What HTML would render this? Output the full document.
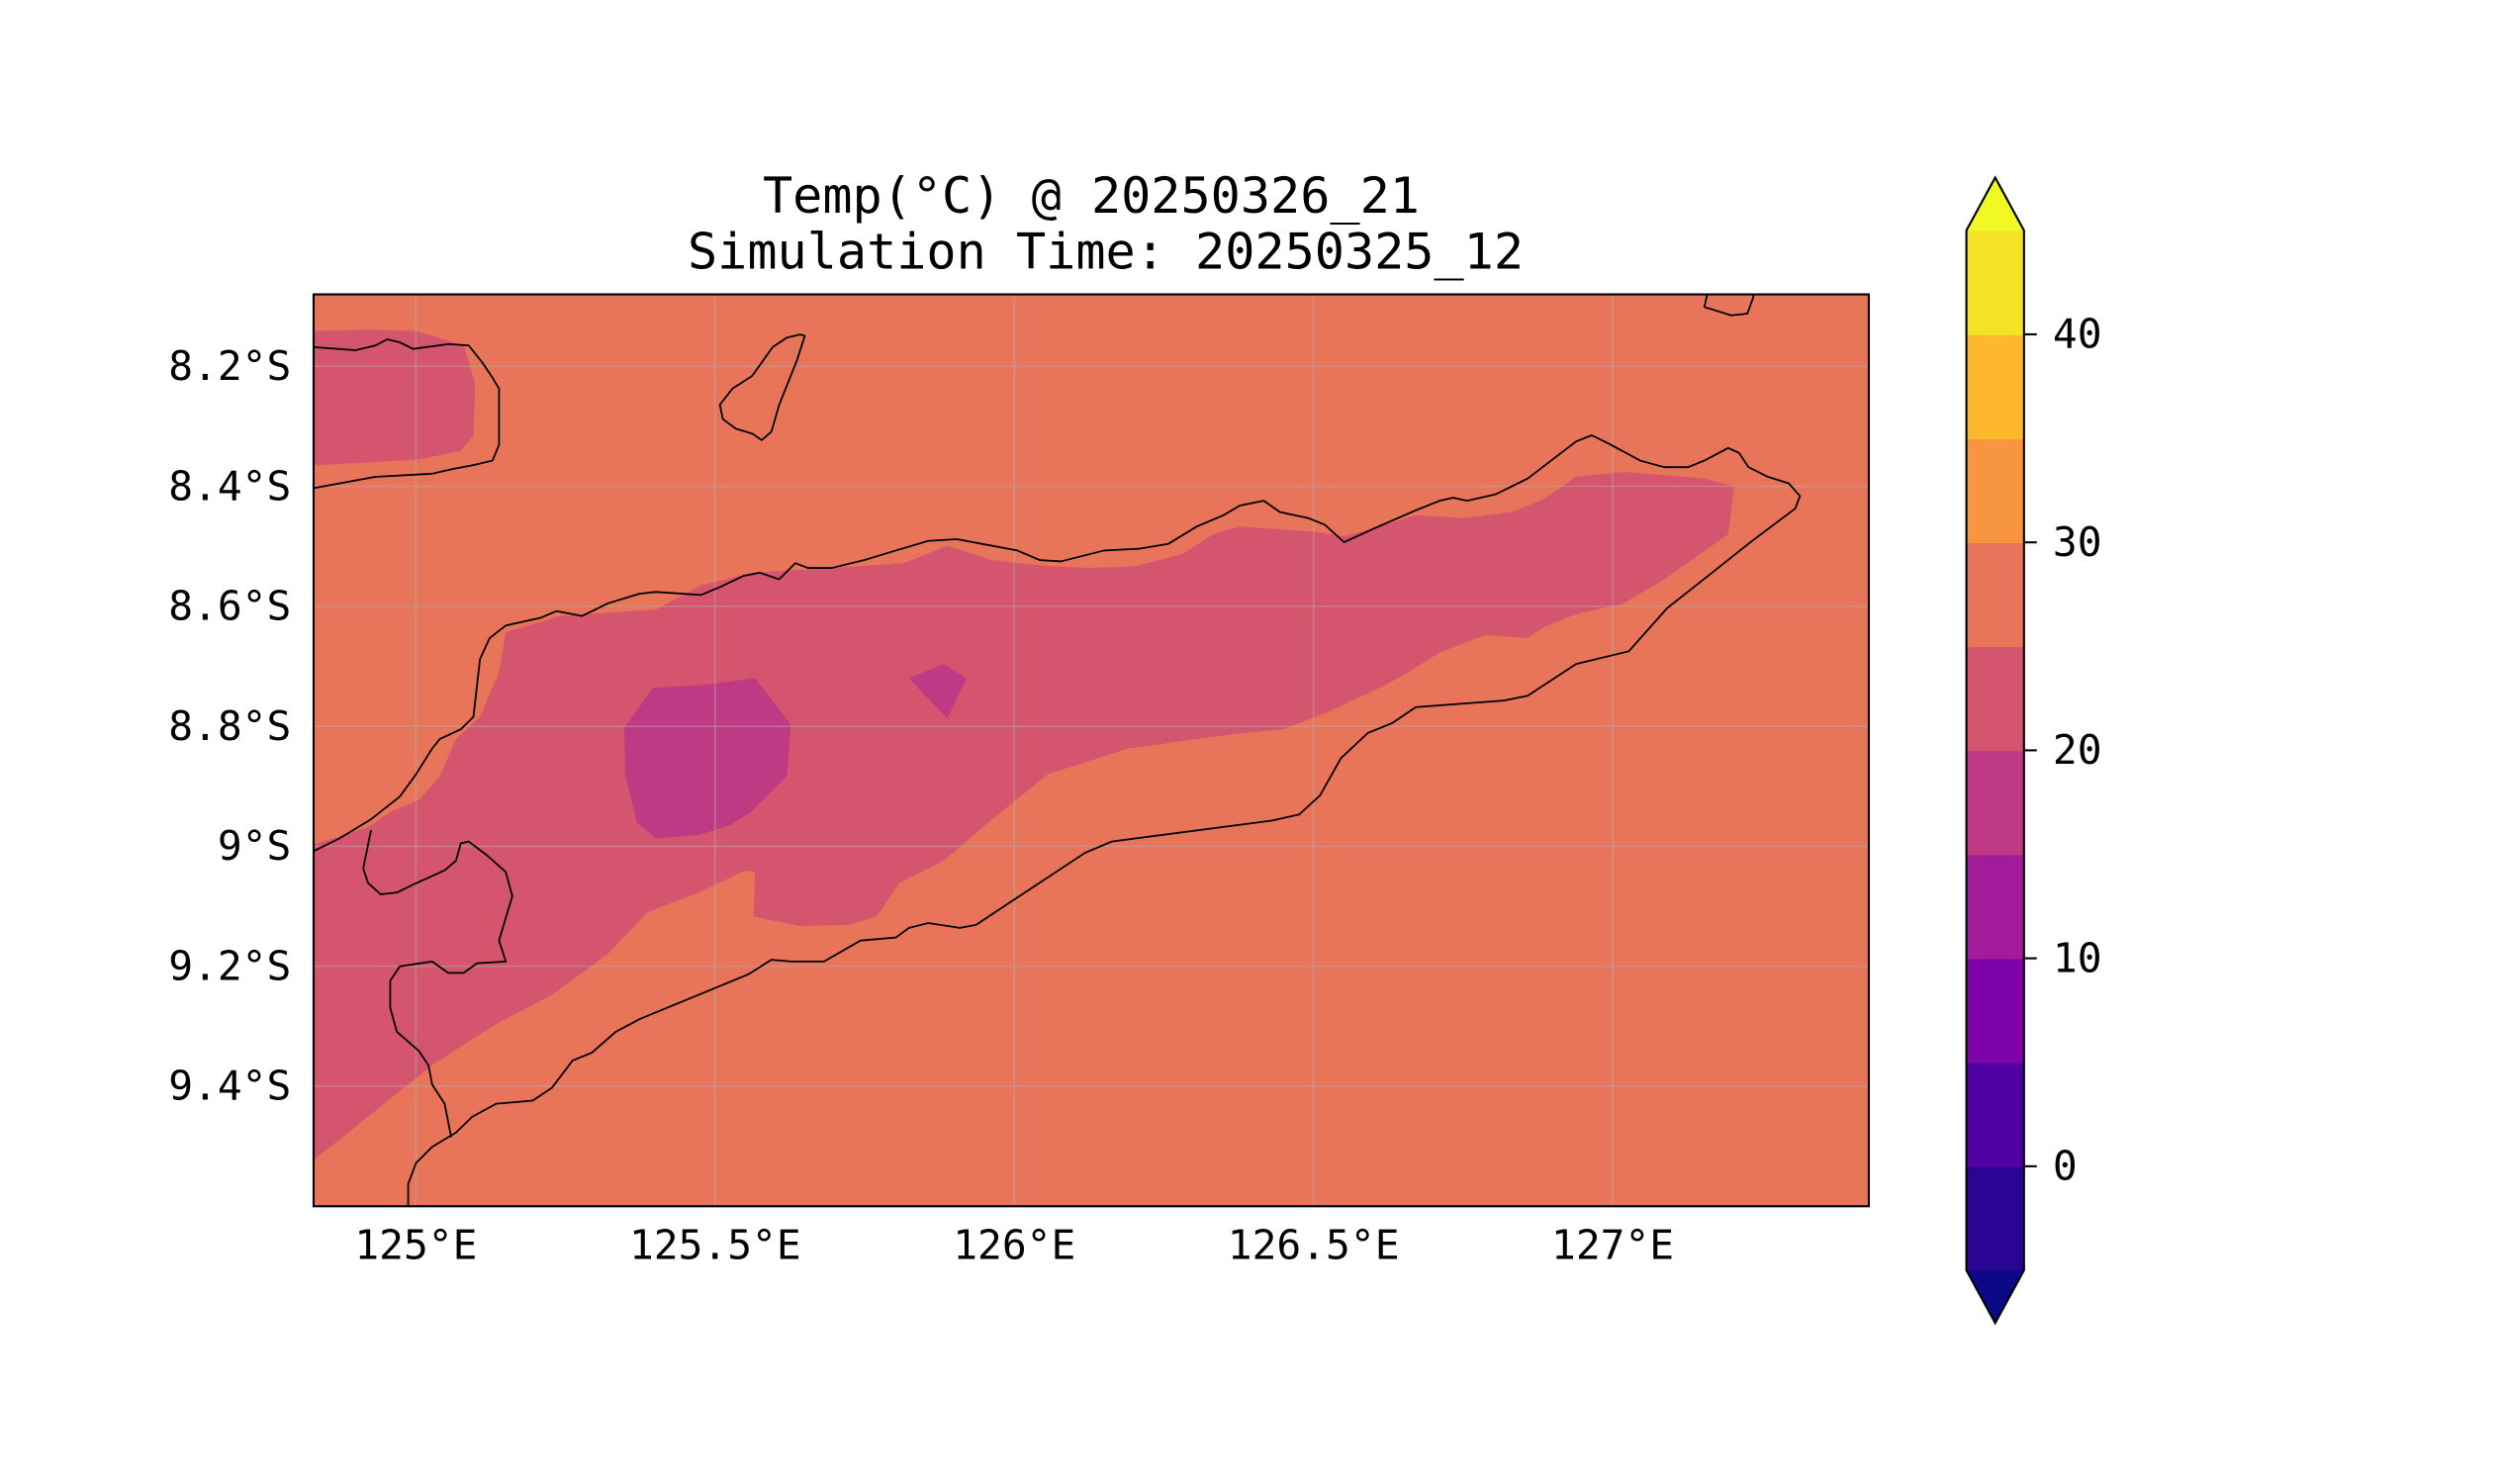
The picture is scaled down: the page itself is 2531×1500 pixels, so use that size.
<!DOCTYPE html>
<html><head><meta charset="utf-8"><style>
html,body{margin:0;padding:0;background:#fff;}
svg{display:block;}
text{font-family:"DejaVu Sans Mono","Liberation Mono",monospace;fill:#000;}
</style></head><body>
<svg id="fig" width="2531" height="1500" viewBox="0 0 1565 927.6" preserveAspectRatio="none" xmlns="http://www.w3.org/2000/svg">
<defs><clipPath id="plotclip"><rect x="196" y="184" width="972" height="570"/></clipPath></defs>
<text x="682" y="133" font-size="31" text-anchor="middle">Temp(°C) @ 20250326_21</text>
<text x="691" y="168" font-size="31" text-anchor="middle">Simulation Time: 20250325_12</text>
<g id="plot"></g>
<g id="cbar"></g>
</svg>
<script>
const xTicks = [125, 125.5, 126, 126.5, 127];
const xTickLabels = ["125°E", "125.5°E", "126°E", "126.5°E", "127°E"];
const yTicks = [8.2, 8.4, 8.6, 8.8, 9.0, 9.2, 9.4];
const yTickLabels = ["8.2°S", "8.4°S", "8.6°S", "8.8°S", "9°S", "9.2°S", "9.4°S"];
const levels = [-5, 0, 5, 10, 15, 20, 25, 30, 35, 40, 45];
const levelColors = ["#2a0593", "#5002a2", "#7e03a8", "#a11b9b", "#bf3984", "#d5546e", "#e8755a", "#f79540", "#feb82c", "#f5e426"];
const extendLowColor = "#0d0887";
const extendHighColor = "#f0f921";
const cbTicks = [0, 10, 20, 30, 40];
const backgroundLevel = 27.5;
// temperature zones [lon, latS]
const zone2025TopLeft = [[124.829,8.141],[124.920,8.139],[125.000,8.141],[125.080,8.165],[125.099,8.229],[125.096,8.315],[125.075,8.341],[125.005,8.355],[124.925,8.360],[124.829,8.365]];
const zone2025Timor = [[124.829,9.523],[124.880,9.483],[124.947,9.429],[125.027,9.365],[125.134,9.296],[125.227,9.248],[125.321,9.179],[125.388,9.109],[125.473,9.077],[125.551,9.040],[125.567,9.043],[125.564,9.117],[125.642,9.133],[125.722,9.131],[125.770,9.117],[125.808,9.061],[125.882,9.024],[125.963,8.955],[126.056,8.880],[126.190,8.837],[126.364,8.813],[126.449,8.805],[126.524,8.776],[126.610,8.736],[126.650,8.715],[126.711,8.677],[126.786,8.648],[126.858,8.653],[126.885,8.635],[126.939,8.613],[127.019,8.595],[127.086,8.555],[127.193,8.480],[127.203,8.400],[127.153,8.387],[127.019,8.376],[126.939,8.384],[126.885,8.421],[126.832,8.443],[126.751,8.453],[126.671,8.448],[126.604,8.469],[126.551,8.483],[126.492,8.475],[126.377,8.467],[126.332,8.480],[126.283,8.512],[126.203,8.533],[126.128,8.536],[126.056,8.533],[125.963,8.523],[125.888,8.499],[125.816,8.528],[125.695,8.536],[125.562,8.544],[125.476,8.565],[125.401,8.605],[125.321,8.611],[125.241,8.616],[125.150,8.643],[125.139,8.709],[125.107,8.784],[125.067,8.821],[125.040,8.883],[125.005,8.923],[124.960,8.941],[124.920,8.968],[124.829,8.997]];
const zone1520Large = [[125.348,8.803],[125.396,8.736],[125.481,8.731],[125.567,8.720],[125.626,8.797],[125.620,8.883],[125.562,8.941],[125.524,8.965],[125.473,8.981],[125.401,8.987],[125.369,8.960],[125.350,8.880]];
const zone1520Small = [[125.824,8.720],[125.882,8.696],[125.920,8.720],[125.888,8.787]];
const zones = [[zone2025TopLeft, 22.5, "zone-20-25-northwest"], [zone2025Timor, 22.5, "zone-20-25-timor-interior"], [zone1520Large, 17.5, "zone-15-20-central"], [zone1520Small, 17.5, "zone-15-20-small"]];
// coastlines [lon, latS]
const coastTimor = [[124.829,9.008],[124.872,8.987],[124.925,8.955],[124.973,8.917],[125.000,8.880],[125.027,8.837],[125.040,8.821],[125.075,8.805],[125.096,8.784],[125.107,8.688],[125.123,8.653],[125.150,8.632],[125.209,8.619],[125.235,8.608],[125.278,8.616],[125.321,8.595],[125.374,8.579],[125.401,8.576],[125.476,8.581],[125.508,8.568],[125.548,8.549],[125.575,8.544],[125.607,8.555],[125.634,8.528],[125.655,8.536],[125.695,8.536],[125.749,8.523],[125.802,8.507],[125.856,8.491],[125.904,8.488],[126.005,8.507],[126.043,8.523],[126.078,8.525],[126.150,8.507],[126.209,8.504],[126.257,8.496],[126.305,8.467],[126.350,8.448],[126.377,8.432],[126.417,8.424],[126.444,8.443],[126.492,8.453],[126.519,8.464],[126.551,8.493],[126.604,8.469],[126.671,8.440],[126.711,8.424],[126.733,8.419],[126.757,8.424],[126.805,8.413],[126.858,8.387],[126.939,8.325],[126.965,8.315],[126.992,8.328],[127.046,8.357],[127.086,8.368],[127.126,8.368],[127.153,8.357],[127.193,8.336],[127.211,8.344],[127.227,8.368],[127.259,8.384],[127.294,8.395],[127.313,8.416],[127.305,8.437],[127.233,8.491],[127.166,8.544],[127.091,8.603],[127.027,8.675],[126.939,8.696],[126.858,8.749],[126.818,8.757],[126.671,8.768],[126.631,8.795],[126.591,8.811],[126.546,8.853],[126.511,8.915],[126.476,8.947],[126.431,8.957],[126.163,8.992],[126.118,9.011],[125.936,9.131],[125.909,9.136],[125.856,9.128],[125.824,9.136],[125.802,9.152],[125.743,9.157],[125.682,9.192],[125.628,9.192],[125.594,9.189],[125.556,9.213],[125.374,9.288],[125.334,9.309],[125.294,9.344],[125.262,9.357],[125.227,9.403],[125.195,9.424],[125.134,9.429],[125.094,9.451],[125.067,9.477],[125.027,9.501],[125.000,9.528],[124.987,9.563],[124.987,9.600]];
const coastBorder = [[124.925,8.973],[124.912,9.037],[124.920,9.061],[124.941,9.080],[124.968,9.077],[124.995,9.064],[125.048,9.040],[125.067,9.024],[125.075,8.995],[125.088,8.992],[125.120,9.016],[125.150,9.043],[125.161,9.083],[125.139,9.157],[125.150,9.192],[125.102,9.195],[125.080,9.211],[125.054,9.211],[125.027,9.192],[124.973,9.200],[124.957,9.224],[124.957,9.269],[124.968,9.309],[125.005,9.341],[125.021,9.365],[125.027,9.397],[125.048,9.429],[125.059,9.485]];
const coastNorthwest = [[124.829,8.168],[124.899,8.173],[124.933,8.165],[124.952,8.155],[124.973,8.160],[124.995,8.171],[125.054,8.163],[125.088,8.165],[125.112,8.195],[125.128,8.219],[125.139,8.237],[125.139,8.331],[125.128,8.357],[125.094,8.365],[125.062,8.371],[125.027,8.379],[124.933,8.384],[124.829,8.403]];
const coastAtauro = [[125.642,8.147],[125.620,8.152],[125.596,8.168],[125.562,8.216],[125.529,8.237],[125.508,8.264],[125.513,8.288],[125.535,8.304],[125.562,8.312],[125.578,8.323],[125.594,8.309],[125.607,8.264],[125.637,8.189],[125.650,8.149]];
const coastNortheast = [[127.158,8.080],[127.153,8.101],[127.198,8.115],[127.225,8.112],[127.235,8.085],[127.235,8.080]];

const NS = "http://www.w3.org/2000/svg";
const X0 = 196, X1 = 1168, Y0 = 184, Y1 = 754;
const LON0 = 124.829, LON1 = 127.428, LAT0 = 8.08, LAT1 = 9.6;
function xS(lon){ return X0 + (lon - LON0) / (LON1 - LON0) * (X1 - X0); }
function yS(lat){ return Y0 + (lat - LAT0) / (LAT1 - LAT0) * (Y1 - Y0); }
const CB_TOP = 144, CB_BOT = 794;
function yC(v){ return CB_BOT - (v - levels[0]) / (levels[levels.length-1] - levels[0]) * (CB_BOT - CB_TOP); }
function colorFor(v){ for (let i = 0; i < levels.length - 1; i++) if (v >= levels[i] && v < levels[i+1]) return levelColors[i]; return v < levels[0] ? extendLowColor : extendHighColor; }
function mk(tag, attrs, parent){ const e = document.createElementNS(NS, tag); for (const k in attrs) e.setAttribute(k, attrs[k]); parent.appendChild(e); return e; }
function pts(arr){ return arr.map(p => xS(p[0]).toFixed(1) + "," + yS(p[1]).toFixed(1)).join(" "); }

const plot = document.getElementById("plot");
const clipG = mk("g", {"clip-path": "url(#plotclip)"}, plot);
const bg = mk("rect", {x: X0, y: Y0, width: X1 - X0, height: Y1 - Y0, fill: colorFor(backgroundLevel)}, clipG);


zones.forEach(z => {
  const p = mk("polygon", {points: pts(z[0]), fill: colorFor(z[1])}, clipG);
  
  
});
xTicks.forEach(t => {
  const l = mk("line", {x1: xS(t), x2: xS(t), y1: Y0, y2: Y1, stroke: "#b0b0b0", "stroke-opacity": 0.45, "stroke-width": 1}, clipG);
  
  
});
yTicks.forEach(t => {
  const l = mk("line", {x1: X0, x2: X1, y1: yS(t), y2: yS(t), stroke: "#b0b0b0", "stroke-opacity": 0.45, "stroke-width": 1}, clipG);
  
  
});
const coasts = [[coastTimor, "coastline-timor", false], [coastBorder, "coastline-oecusse", false], [coastNorthwest, "coastline-northwest-island", false], [coastAtauro, "coastline-atauro", true], [coastNortheast, "coastline-northeast-island", false]];
coasts.forEach(c => {
  const e = mk(c[2] ? "polygon" : "polyline", {points: pts(c[0]), fill: "none", stroke: "#000", "stroke-width": 1.1, "stroke-linejoin": "round"}, clipG);
  
  
});
const frame = mk("rect", {x: X0, y: Y0, width: X1 - X0, height: Y1 - Y0, fill: "none", stroke: "#000", "stroke-width": 1.3}, plot);


xTicks.forEach((t, i) => {
  const tx = mk("text", {x: xS(t), y: 787, "font-size": 25.5, "text-anchor": "middle"}, plot);
  tx.textContent = xTickLabels[i];
  
  
});
yTicks.forEach((t, i) => {
  const tx = mk("text", {x: 182, y: yS(t) + 8.5, "font-size": 25.5, "text-anchor": "end"}, plot);
  tx.textContent = yTickLabels[i];
  
  
});

const cb = document.getElementById("cbar");
const CBX0 = 1229, CBX1 = 1265, CBM = (CBX0 + CBX1) / 2;
for (let i = 0; i < levels.length - 1; i++) {
  const r = mk("rect", {x: CBX0, y: yC(levels[i+1]), width: CBX1 - CBX0, height: yC(levels[i]) - yC(levels[i+1]) + 0.5, fill: levelColors[i]}, cb);
  
  
}
const up = mk("polygon", {points: `${CBX0},${CB_TOP} ${CBM},${CB_TOP-33} ${CBX1},${CB_TOP}`, fill: extendHighColor}, cb);


const dn = mk("polygon", {points: `${CBX0},${CB_BOT} ${CBM},${CB_BOT+33} ${CBX1},${CB_BOT}`, fill: extendLowColor}, cb);


const outline = mk("polygon", {points: `${CBX0},${CB_TOP} ${CBM},${CB_TOP-33} ${CBX1},${CB_TOP} ${CBX1},${CB_BOT} ${CBM},${CB_BOT+33} ${CBX0},${CB_BOT}`, fill: "none", stroke: "#000", "stroke-width": 1.3}, cb);


cbTicks.forEach(t => {
  const l = mk("line", {x1: CBX1, x2: CBX1 + 8, y1: yC(t), y2: yC(t), stroke: "#000", "stroke-width": 1.3}, cb);
  
  
  const tx = mk("text", {x: 1283, y: yC(t) + 8.5, "font-size": 25.5}, cb);
  tx.textContent = String(t);
  
  
});
</script>
</body></html>
